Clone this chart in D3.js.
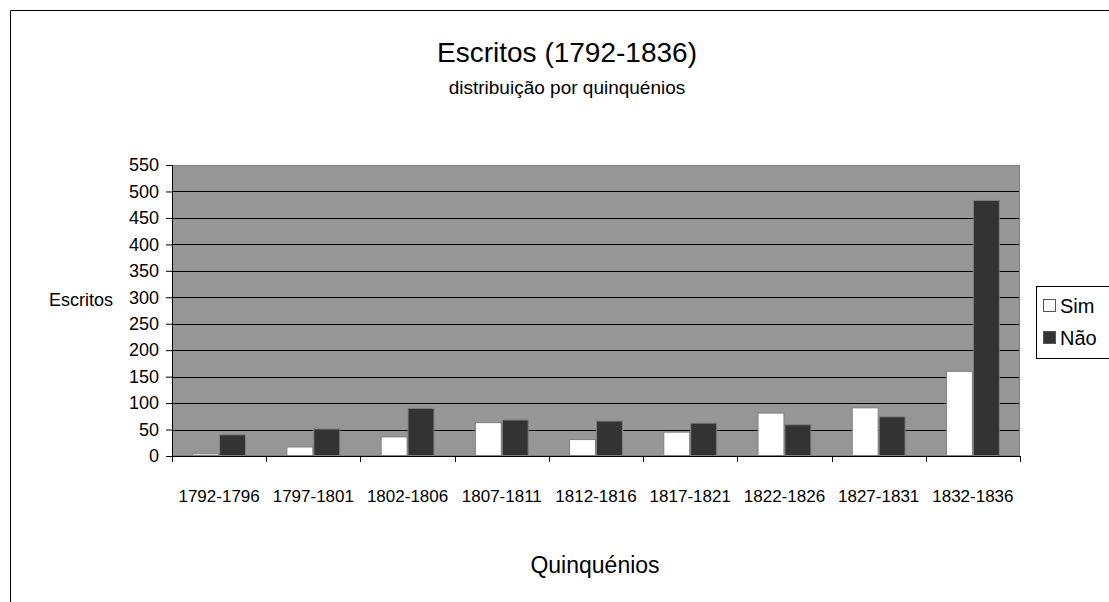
<!DOCTYPE html>
<html>
<head>
<meta charset="utf-8">
<script src="https://cdn.jsdelivr.net/npm/d3@7"></script>
<style>
  html, body { margin: 0; padding: 0; background: #fff; }
  svg { display: block; font-family: "Liberation Sans", Arial, sans-serif; }
</style>
</head>
<body>
<svg id="chart" width="1109" height="602"></svg>
<script>
const categories = [
  '1792-1796', '1797-1801', '1802-1806', '1807-1811', '1812-1816',
  '1817-1821', '1822-1826', '1827-1831', '1832-1836',
];
const seriesNames = ['Sim', 'Não'];
const sim = [5, 18, 37, 64, 32, 46, 82, 92, 161];
const nao = [41, 52, 91, 69, 67, 63, 60, 75, 484];
const yTicks = [0, 50, 100, 150, 200, 250, 300, 350, 400, 450, 500, 550];

const colors = ['#ffffff', '#333333'];
const font = '"Liberation Sans", Arial, sans-serif';

function translate(x, y) {
  return `translate(${x},${y})`;
}

const svg = d3.select('#chart');

// outer chart frame (right and bottom edges fall off the page)
svg.append('path')
  .attr('d', 'M10.5,602V10.5H1109')
  .attr('fill', 'none')
  .attr('stroke', '#000');

const plot = { left: 172, right: 1020, top: 165, bottom: 456 };

const x = d3.scaleBand()
  .domain(categories)
  .range([plot.left, plot.right]);

// excel-like gap width of 150%
const xInner = d3.scaleBand()
  .domain(seriesNames)
  .range([0, x.bandwidth()])
  .paddingOuter(0.75)
  .paddingInner(0);

const y = d3.scaleLinear()
  .domain([0, 550])
  .range([plot.bottom, plot.top]);

// plot background
svg.append('rect')
  .attr('x', plot.left)
  .attr('y', plot.top)
  .attr('width', plot.right - plot.left)
  .attr('height', plot.bottom - plot.top)
  .attr('fill', '#969696');

// gridlines
svg.append('g')
  .selectAll('line')
  .data(yTicks.filter(d => d > 0 && d < 550))
  .join('line')
  .attr('x1', plot.left)
  .attr('x2', plot.right)
  .attr('y1', d => Math.round(y(d)) + 0.5)
  .attr('y2', d => Math.round(y(d)) + 0.5)
  .attr('stroke', '#000');

// plot border
svg.append('rect')
  .attr('x', plot.left + 0.5)
  .attr('y', plot.top + 0.5)
  .attr('width', plot.right - plot.left - 1)
  .attr('height', plot.bottom - plot.top - 1)
  .attr('fill', 'none')
  .attr('stroke', '#808080');

// bars
const rows = categories.map((c, i) => ({ cat: c, values: [sim[i], nao[i]] }));
const groups = svg.append('g')
  .selectAll('g')
  .data(rows)
  .join('g')
  .attr('transform', d => translate(x(d.cat), 0));

groups.selectAll('rect')
  .data(d => d.values.map((v, k) => ({ key: seriesNames[k], value: v, k })))
  .join('rect')
  .attr('x', d => xInner(d.key) + 0.5)
  .attr('y', d => y(d.value) + 0.5)
  .attr('width', xInner.bandwidth() - 1)
  .attr('height', d => y(0) - y(d.value) - 1)
  .attr('fill', d => colors[d.k])
  .attr('stroke', '#808080');

// y axis
const yAxis = d3.axisLeft(y)
  .tickValues(yTicks)
  .tickSize(6)
  .tickPadding(7);

const yGroup = svg.append('g')
  .attr('transform', translate(plot.left, 0))
  .call(yAxis);
yGroup.select('.domain').attr('stroke', '#000');
yGroup.selectAll('.tick line').attr('stroke', '#000');
yGroup.selectAll('.tick text')
  .attr('font-size', 18)
  .attr('font-family', font)
  .attr('fill', '#000');

// x axis
const xAxis = d3.axisBottom(x).tickSize(0).tickPadding(34);
const xGroup = svg.append('g')
  .attr('transform', translate(0, plot.bottom))
  .call(xAxis);
xGroup.select('.domain').attr('stroke', '#000');
xGroup.selectAll('.tick text')
  .attr('font-size', 17)
  .attr('font-family', font)
  .attr('fill', '#000');

// category separators below the axis
svg.append('g')
  .selectAll('line')
  .data(categories.concat(['end']))
  .join('line')
  .attr('x1', (d, i) => Math.round(plot.left + i * x.step()) + 0.5)
  .attr('x2', (d, i) => Math.round(plot.left + i * x.step()) + 0.5)
  .attr('y1', plot.bottom)
  .attr('y2', plot.bottom + 6)
  .attr('stroke', '#000');

// titles
svg.append('text')
  .attr('x', 567)
  .attr('y', 62)
  .attr('text-anchor', 'middle')
  .attr('font-size', 28)
  .text('Escritos (1792-1836)');

svg.append('text')
  .attr('x', 567)
  .attr('y', 94)
  .attr('text-anchor', 'middle')
  .attr('font-size', 19)
  .text('distribuição por quinquénios');

svg.append('text')
  .attr('x', 113)
  .attr('y', 306)
  .attr('text-anchor', 'end')
  .attr('font-size', 18)
  .text('Escritos');

svg.append('text')
  .attr('x', 595)
  .attr('y', 573)
  .attr('text-anchor', 'middle')
  .attr('font-size', 23)
  .text('Quinquénios');

// legend
const legend = svg.append('g').attr('transform', translate(1036, 286));
legend.append('rect')
  .attr('x', 0.5)
  .attr('y', 0.5)
  .attr('width', 90)
  .attr('height', 72)
  .attr('fill', '#fff')
  .attr('stroke', '#000');

const items = legend.selectAll('g.item')
  .data(seriesNames)
  .join('g')
  .attr('class', 'item')
  .attr('transform', (d, i) => translate(7, 20 + i * 32));

items.append('rect')
  .attr('x', 0.5)
  .attr('y', -6.5)
  .attr('width', 12)
  .attr('height', 12)
  .attr('fill', (d, i) => colors[i])
  .attr('stroke', '#555');

items.append('text')
  .attr('x', 17)
  .attr('dy', '0.36em')
  .attr('font-size', 20)
  .text(d => d);
</script>
</body>
</html>
